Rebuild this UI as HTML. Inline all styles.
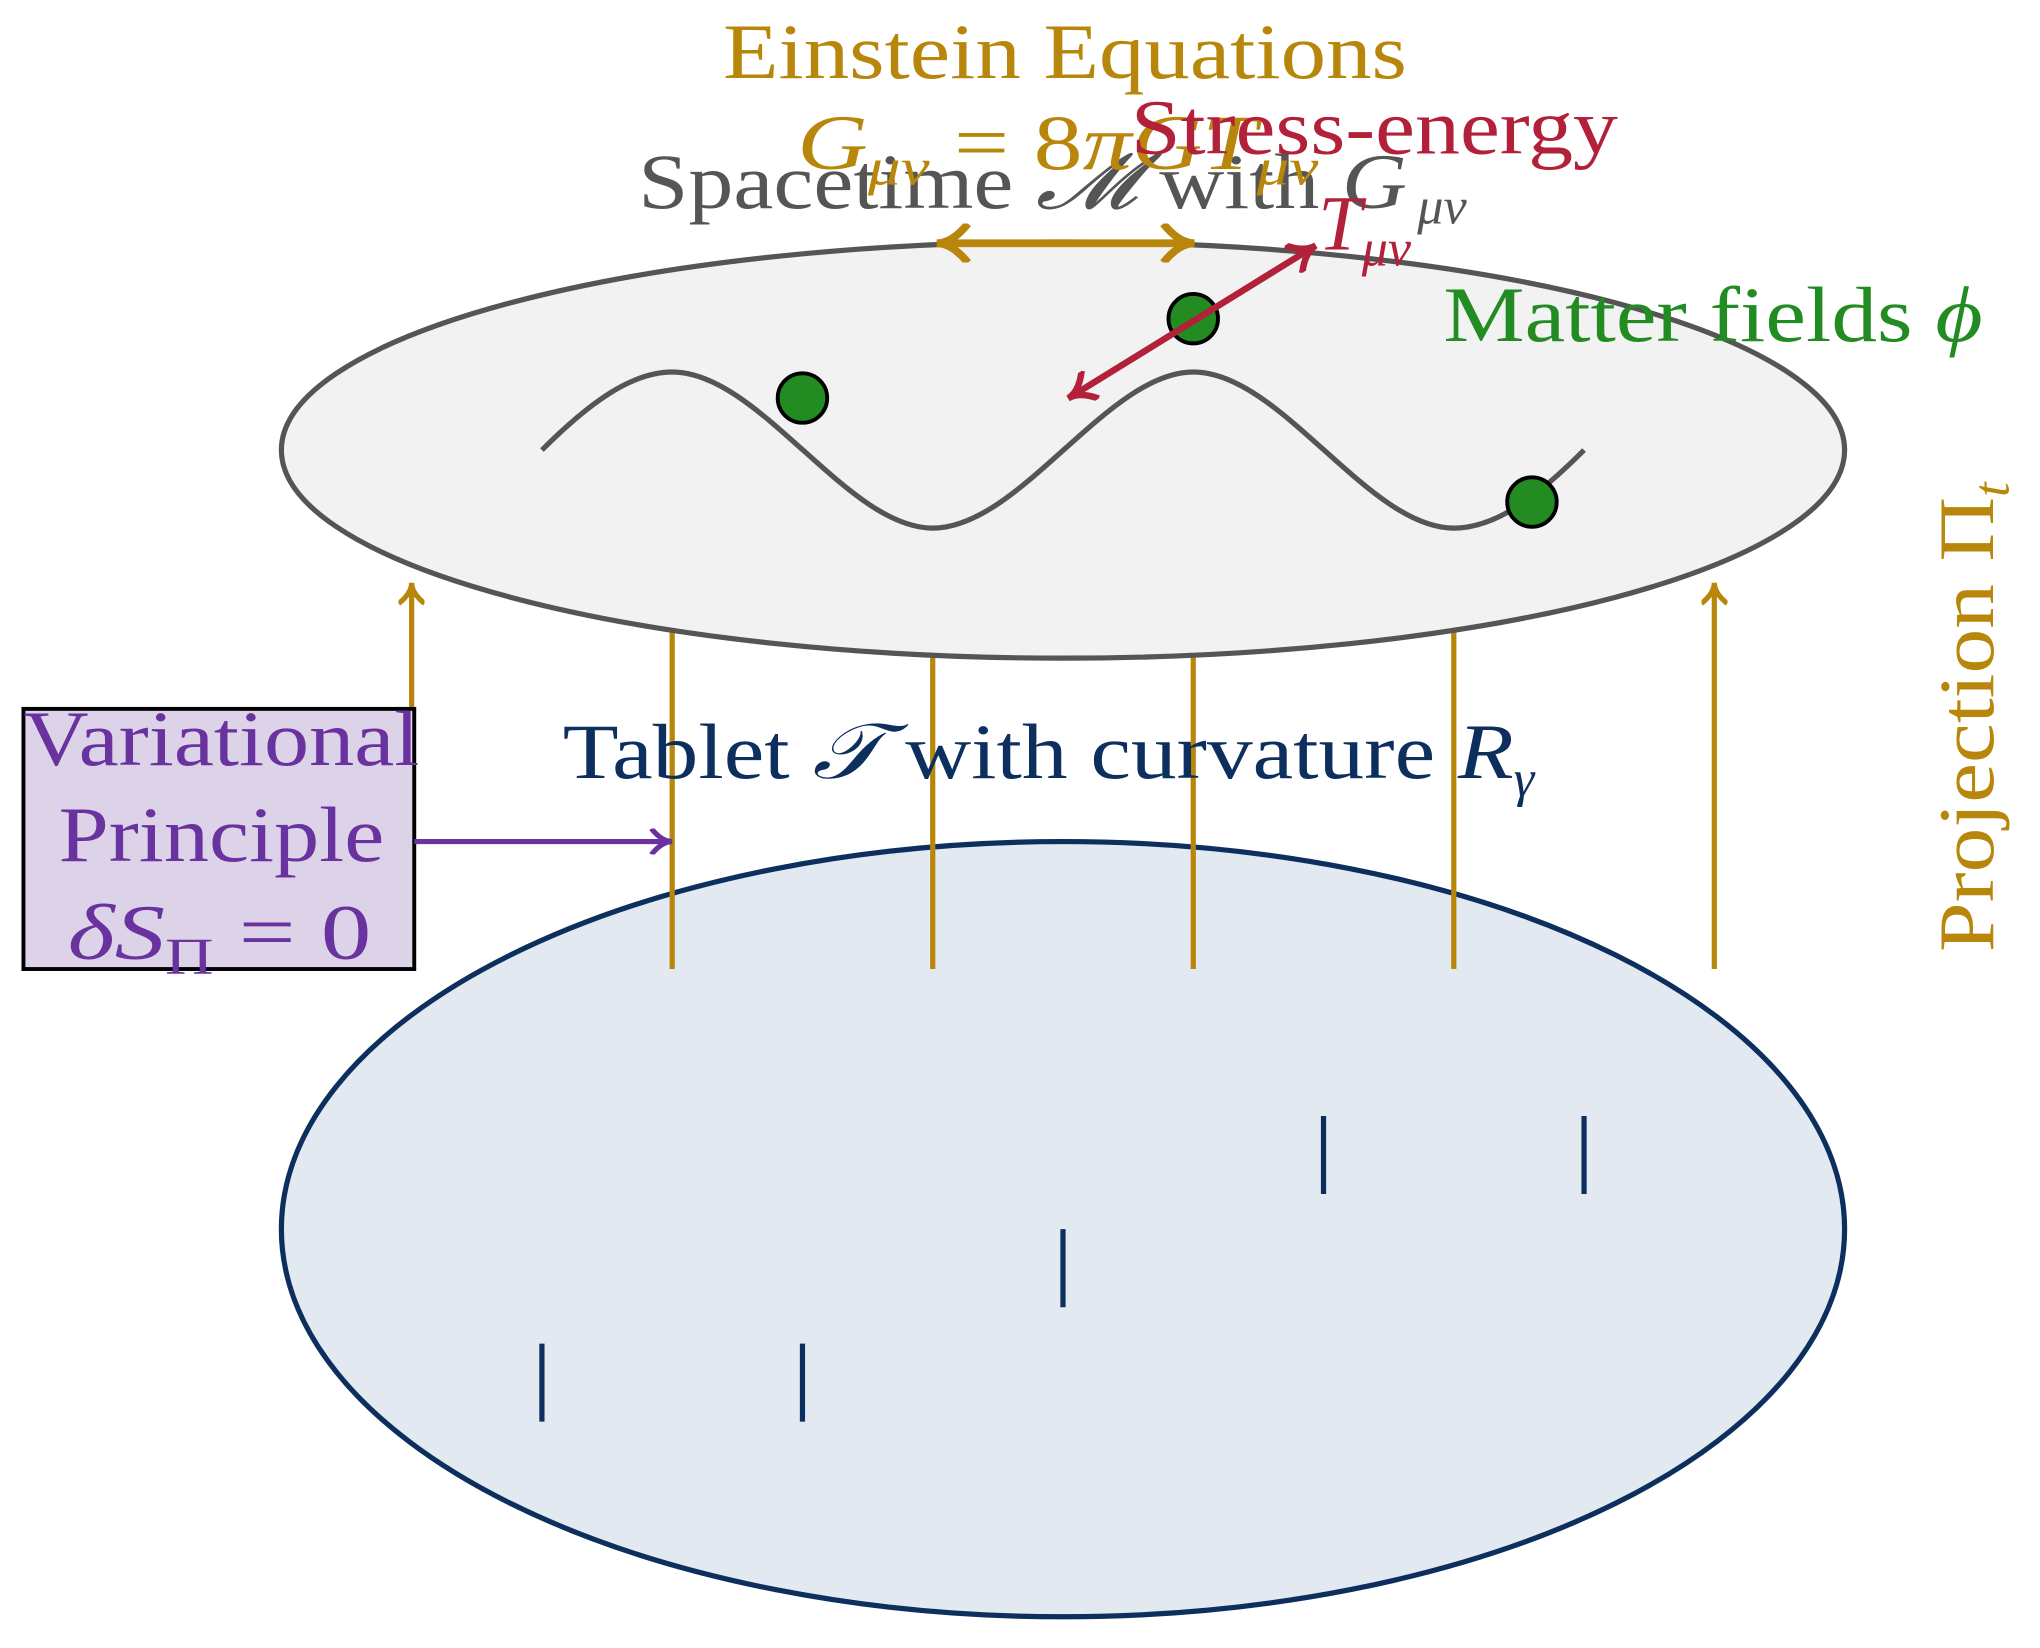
<!DOCTYPE html>
<html><head><meta charset="utf-8"><style>html,body{margin:0;padding:0;background:#fff}svg{display:block}</style></head>
<body>
<svg width="2040" height="1648" viewBox="0 0 1566 1267" preserveAspectRatio="none" xmlns="http://www.w3.org/2000/svg" font-family="Liberation Serif, serif">
<defs>
<marker id="ag" viewBox="0 0 10 10" refX="8" refY="5" markerWidth="5" markerHeight="5" orient="auto-start-reverse"><path d="M1,0 Q5,5 9,5 Q5,5 1,10" fill="none" stroke="#b8860b" stroke-width="2"/></marker>
<marker id="ar" viewBox="0 0 10 10" refX="8" refY="5" markerWidth="5" markerHeight="5" orient="auto-start-reverse"><path d="M1,0 Q5,5 9,5 Q5,5 1,10" fill="none" stroke="#b22039" stroke-width="2"/></marker>
<marker id="ap" viewBox="0 0 10 10" refX="8" refY="5" markerWidth="5" markerHeight="5" orient="auto"><path d="M1,0 Q5,5 9,5 Q5,5 1,10" fill="none" stroke="#6a329f" stroke-width="2"/></marker>
</defs>
<ellipse cx="816" cy="945" rx="600" ry="298" fill="#e3e9f1" stroke="#0d2f5e" stroke-width="4"/>
<g stroke="#0d2f5e" stroke-width="4">
<line x1="416" y1="1033" x2="416" y2="1093"/><line x1="616" y1="1033" x2="616" y2="1093"/>
<line x1="816" y1="945" x2="816" y2="1005"/><line x1="1016" y1="858" x2="1016" y2="918"/><line x1="1216" y1="858" x2="1216" y2="918"/>
</g>
<g stroke="#b8860b" stroke-width="4">
<line x1="316" y1="745" x2="316" y2="450" marker-end="url(#ag)"/>
<line x1="1316" y1="745" x2="1316" y2="450" marker-end="url(#ag)"/>
<line x1="516" y1="745" x2="516" y2="480"/><line x1="716" y1="745" x2="716" y2="480"/>
<line x1="916" y1="745" x2="916" y2="480"/><line x1="1116" y1="745" x2="1116" y2="480"/>
</g>
<ellipse cx="816" cy="346" rx="600" ry="160" fill="#f2f2f2" stroke="#555" stroke-width="4"/>
<path d="M416,346 C449,313 483,286 516,286 C583,286 650,406 716,406 C783,406 850,286 916,286 C983,286 1050,406 1116,406 C1150,406 1183,379 1216,346" fill="none" stroke="#555" stroke-width="4"/>
<g fill="#228b22" stroke="#000" stroke-width="3">
<circle cx="616" cy="306" r="19"/><circle cx="916" cy="245" r="19"/><circle cx="1176" cy="386" r="19"/>
</g>
<line x1="722" y1="187" x2="914" y2="187" stroke="#b8860b" stroke-width="6" marker-start="url(#ag)" marker-end="url(#ag)"/>
<line x1="822" y1="305" x2="1008" y2="190" stroke="#b22039" stroke-width="5" marker-start="url(#ar)" marker-end="url(#ar)"/>
<rect x="18" y="545" width="300" height="200" fill="#ddd3e9" stroke="#000" stroke-width="3"/>
<line x1="318" y1="647" x2="514" y2="647" stroke="#6a329f" stroke-width="4" marker-end="url(#ap)"/>
<g font-size="60">
<text x="555" y="60" fill="#b8860b" textLength="525" lengthAdjust="spacingAndGlyphs">Einstein Equations</text>
<text x="490" y="160" fill="#555" textLength="590" lengthAdjust="spacingAndGlyphs">Spacetime <tspan font-style="italic">𝓜</tspan> with <tspan font-style="italic">G</tspan></text>
<text x="1088" y="172" fill="#555" font-size="40" font-style="italic">μν</text>
<text x="612" y="130" fill="#b8860b" font-style="italic" textLength="400" lengthAdjust="spacingAndGlyphs">G<tspan font-size="40" dy="12">μν</tspan><tspan dy="-12" font-style="normal"> = 8</tspan>πGT<tspan font-size="40" dy="12">μν</tspan></text>
<text x="868" y="118" fill="#b22039" textLength="374" lengthAdjust="spacingAndGlyphs">Stress-energy</text>
<text x="1012" y="192" fill="#b22039" font-style="italic">T<tspan font-size="40" dy="12">μν</tspan></text>
<text x="1108" y="262" fill="#228b22" textLength="414" lengthAdjust="spacingAndGlyphs">Matter fields <tspan font-style="italic">ϕ</tspan></text>
<text x="432" y="598" fill="#0d2f5e" textLength="730" lengthAdjust="spacingAndGlyphs">Tablet <tspan font-style="italic">𝒯</tspan> with curvature <tspan font-style="italic">R</tspan></text>
<text x="1162" y="612" fill="#0d2f5e" font-size="40" font-style="italic">γ</text>
<text x="18" y="588" fill="#6a329f" textLength="304" lengthAdjust="spacingAndGlyphs">Variational</text>
<text x="45" y="662" fill="#6a329f" textLength="250" lengthAdjust="spacingAndGlyphs">Principle</text>
<text x="52" y="737" fill="#6a329f" textLength="233" lengthAdjust="spacingAndGlyphs"><tspan font-style="italic">δS</tspan><tspan font-size="40" dy="12">Π</tspan><tspan dy="-12"> = 0</tspan></text>
<text transform="translate(1530,732) rotate(-90)" fill="#b8860b" textLength="350" lengthAdjust="spacingAndGlyphs">Projection Π</text>
<text transform="translate(1542,382) rotate(-90)" fill="#b8860b" font-size="40" font-style="italic">t</text>
</g>
</svg>
</body></html>
